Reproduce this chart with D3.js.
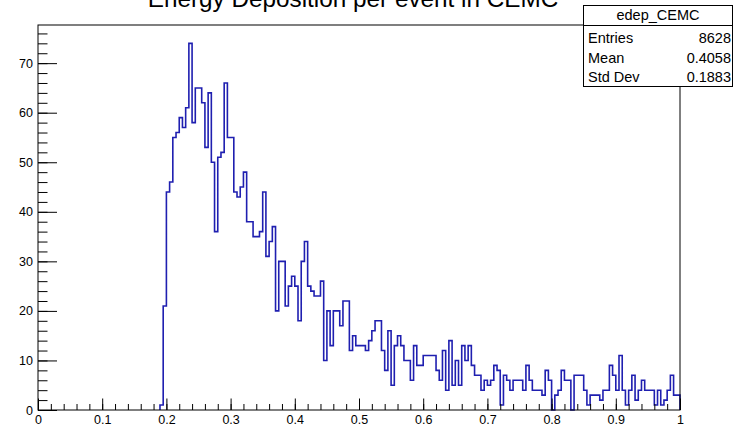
<!DOCTYPE html>
<html><head><meta charset="utf-8">
<script src="https://cdn.jsdelivr.net/npm/d3@7/dist/d3.min.js"></script>
<style>body{margin:0;background:#fff;overflow:hidden}</style>
</head><body><svg id="c" width="733" height="428"></svg>
<script>
const title = "Energy Deposition per event in CEMC";
const histName = "edep_CEMC";
const statLabels = ["Entries", "Mean", "Std Dev"];
const statValues = ["8628", "0.4058", "0.1883"];
const xRange = [0, 1];
const nBins = 200;
// bin contents, bins 38..199 (bins 0..37 empty)
const firstFilledBin = 38;
const filledCounts = [
  1, 21, 44, 46, 55, 56, 59, 57, 61, 74,
  58, 65, 65, 62, 53, 64, 50, 36, 51, 52,
  66, 55, 55, 44, 43, 45, 48, 38, 38, 35,
  35, 36, 44, 31, 34, 37, 20, 30, 30, 21,
  25, 27, 25, 18, 30, 34, 25, 24, 23, 23,
  26, 10, 20, 13, 20, 20, 17, 22, 22, 12,
  15, 13, 13, 13, 12, 14, 16, 18, 18, 12,
  8, 16, 5, 13, 15, 13, 10, 10, 6, 13,
  9, 9, 11, 11, 11, 11, 8, 6, 12, 4,
  14, 5, 10, 5, 13, 10, 13, 9, 7, 7,
  4, 6, 5, 6, 9, 8, 1, 7, 6, 4,
  6, 6, 6, 4, 9, 6, 4, 4, 4, 3,
  8, 6, 0, 3, 4, 8, 6, 6, 0, 7,
  7, 7, 4, 1, 3, 3, 3, 2, 4, 4,
  9, 7, 4, 11, 4, 1, 4, 7, 2, 4,
  6, 4, 4, 4, 1, 4, 1, 2, 4, 7, 3, 3
];
const counts = d3.range(nBins).map(i => i < firstFilledBin ? 0 : (filledCounts[i - firstFilledBin] ?? 0));
const xTickValues = [0, 0.1, 0.2, 0.3, 0.4, 0.5, 0.6, 0.7, 0.8, 0.9, 1];
const xTickLabels = ["0", "0.1", "0.2", "0.3", "0.4", "0.5", "0.6", "0.7", "0.8", "0.9", "1"];
const yTickValues = [0, 10, 20, 30, 40, 50, 60, 70];
const yMax = 77.7;

const svg = d3.select("#c");
const L = 38, R = 680, T = 25, B = 410;
const x = d3.scaleLinear().domain(xRange).range([L, R]);
const y = d3.scaleLinear().domain([0, yMax]).range([B, T]);
const font = "'Liberation Sans', Arial, Helvetica, sans-serif";

// title (partially clipped at top as in the reference)
svg.append("text").attr("x", 353).attr("y", 7).attr("text-anchor", "middle")
  .attr("font-family", font).attr("font-size", 24.3).attr("fill", "#000").text(title);

// histogram (outline starts at the first filled bin)
const bw = (xRange[1] - xRange[0]) / nBins;
const pts = [[x(xRange[0] + firstFilledBin * bw), y(0)]];
counts.forEach((c, i) => {
  if (i < firstFilledBin) return;
  const x0 = x(xRange[0] + i * bw), x1 = x(xRange[0] + (i + 1) * bw);
  pts.push([x0, y(c)], [x1, y(c)]);
});
pts.push([x(xRange[1]), y(0)]);
svg.append("path").attr("d", d3.line()(pts)).attr("fill", "none")
  .attr("stroke", "#1f1fb0").attr("stroke-width", 1.6).attr("stroke-linejoin", "miter");

// axes
const gx = svg.append("g").attr("transform", `translate(0,${B})`);
gx.call(d3.axisBottom(x).tickValues(xTickValues).tickSize(-11.5).tickPadding(5)
  .tickFormat((d, i) => xTickLabels[i]));
const gxm = svg.append("g").attr("transform", `translate(0,${B})`);
gxm.call(d3.axisBottom(x).tickValues(d3.range(0, 51).map(i => i * 0.02)).tickSize(-6).tickFormat(""));
const gy = svg.append("g").attr("transform", `translate(${L},0)`);
gy.call(d3.axisLeft(y).tickValues(yTickValues).tickSize(-19).tickPadding(5));
const gym = svg.append("g").attr("transform", `translate(${L},0)`);
gym.call(d3.axisLeft(y).tickValues(d3.range(0, 39).map(i => i * 2)).tickSize(-9.5).tickFormat(""));
[gx, gxm, gy, gym].forEach(g => {
  g.select(".domain").remove();
  g.selectAll("line").attr("stroke", "#000").attr("stroke-width", 1);
  g.selectAll("text").attr("font-family", font).attr("font-size", 12.5).attr("fill", "#000");
});
gx.selectAll("text").attr("dy", "0.71em");

// frame
svg.append("rect").attr("x", L).attr("y", T).attr("width", R - L).attr("height", B - T)
  .attr("fill", "none").attr("stroke", "#000").attr("stroke-width", 1);

// stats box
const sb = svg.append("g");
const sx0 = 583.5, sx1 = 732.5, sy0 = 5.5, sy1 = 86.5;
sb.append("rect").attr("x", sx0).attr("y", sy0).attr("width", sx1 - sx0).attr("height", sy1 - sy0)
  .attr("fill", "#fff").attr("stroke", "#000").attr("stroke-width", 1);
sb.append("line").attr("x1", sx0).attr("x2", sx1).attr("y1", 25.5).attr("y2", 25.5).attr("stroke", "#000");
sb.append("text").attr("x", (sx0 + sx1) / 2).attr("y", 20).attr("text-anchor", "middle")
  .attr("font-family", font).attr("font-size", 14.5).text(histName);
statLabels.forEach((s, i) => {
  const yy = 43 + i * 19.5;
  sb.append("text").attr("x", 588).attr("y", yy).attr("font-family", font).attr("font-size", 14.5).text(s);
  sb.append("text").attr("x", 731).attr("y", yy).attr("text-anchor", "end").attr("font-family", font).attr("font-size", 14.5).text(statValues[i]);
});
</script></body></html>
